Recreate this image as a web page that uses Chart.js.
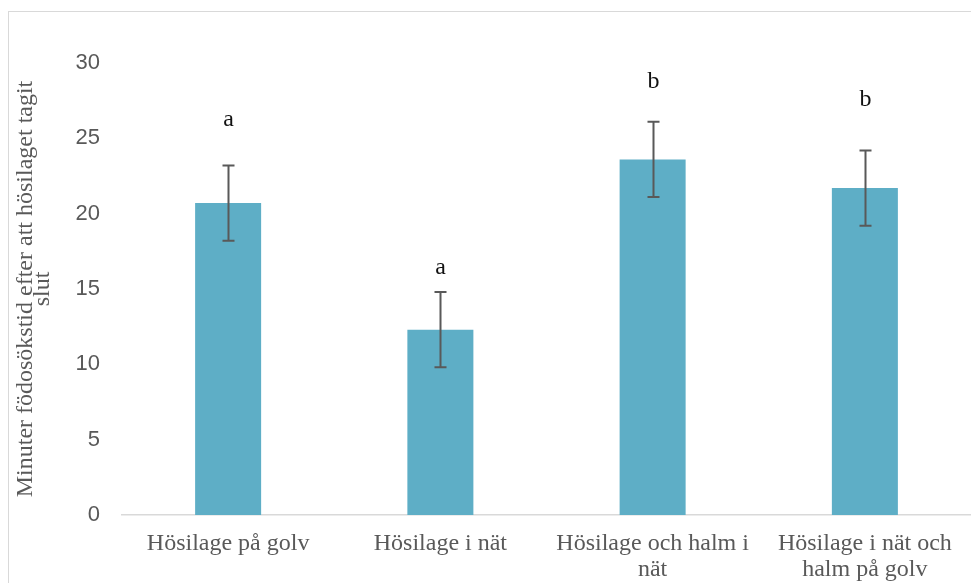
<!DOCTYPE html>
<html>
<head>
<meta charset="utf-8">
<script src="https://cdn.jsdelivr.net/npm/chart.js@4/dist/chart.umd.min.js"></script>
<style>
  html, body { margin: 0; padding: 0; background: #ffffff; }
  #wrap { position: relative; width: 971px; height: 583px; overflow: hidden; }
  #frame { position: absolute; left: 8px; top: 11px; width: 980px; height: 600px;
           border-top: 1px solid #d9d9d9; border-left: 1px solid #d9d9d9; box-sizing: border-box; }
  #c { position: absolute; left: 0; top: 0; }
</style>
</head>
<body>
<div id="wrap">
  <div id="frame"></div>
  <canvas id="c" width="971" height="583"></canvas>
</div>
<script>
// Feeding-search time (minutes) after the haylage was finished, per treatment
const categories = [
  ["Hösilage på golv"],
  ["Hösilage i nät"],
  ["Hösilage och halm i", "nät"],
  ["Hösilage i nät och", "halm på golv"]
];
const meanMinutes = [20.7, 12.3, 23.6, 21.7];
const errorMinutes = [2.5, 2.5, 2.5, 2.5];
// Significance letters and the y value of their baseline
const groupLetters = ["a", "a", "b", "b"];
const letterLevels = [25.8, 16.0, 28.35, 27.15];
const yTicks = [0, 5, 10, 15, 20, 25, 30];

const grey = '#595959';

const errorBarsPlugin = {
  id: 'errorBars',
  afterDatasetsDraw(chart) {
    const ctx = chart.ctx;
    const y = chart.scales.y;
    const meta = chart.getDatasetMeta(0);
    ctx.save();
    meta.data.forEach((bar, i) => {
      const x = Math.round(bar.x) + 0.5;
      const top = y.getPixelForValue(meanMinutes[i] + errorMinutes[i]);
      const bot = y.getPixelForValue(meanMinutes[i] - errorMinutes[i]);
      ctx.strokeStyle = grey;
      ctx.lineWidth = 2;
      ctx.beginPath();
      ctx.moveTo(x, top); ctx.lineTo(x, bot);
      ctx.moveTo(x - 6, top); ctx.lineTo(x + 6, top);
      ctx.moveTo(x - 6, bot); ctx.lineTo(x + 6, bot);
      ctx.stroke();

      ctx.fillStyle = '#111111';
      ctx.font = '24px "Liberation Serif", "Times New Roman", serif';
      ctx.textAlign = 'center';
      ctx.textBaseline = 'alphabetic';
      ctx.fillText(groupLetters[i], x, y.getPixelForValue(letterLevels[i]));
    });
    ctx.restore();
  }
};

new Chart(document.getElementById('c'), {
  type: 'bar',
  data: {
    labels: categories,
    datasets: [{
      data: meanMinutes,
      backgroundColor: '#5eaec6',
      borderWidth: 0,
      categoryPercentage: 1.0,
      barPercentage: 0.311
    }]
  },
  options: {
    responsive: false,
    animation: false,
    devicePixelRatio: 1,
    layout: { padding: { top: 63, right: 0, bottom: 0, left: 0 } },
    plugins: { legend: { display: false }, tooltip: { enabled: false } },
    scales: {
      x: {
        grid: { display: false, drawTicks: false },
        border: { display: true, color: '#d9d9d9', width: 1.5 },
        ticks: {
          color: grey,
          padding: 16,
          maxRotation: 0,
          autoSkip: false,
          font: { family: '"Liberation Serif", "Times New Roman", serif', size: 24, lineHeight: 1.08 }
        },
        afterFit(scale) { scale.height = 68; }
      },
      y: {
        min: 0,
        max: 30,
        grid: { display: false, drawTicks: false },
        border: { display: false },
        afterBuildTicks(scale) { scale.ticks = yTicks.map(v => ({ value: v })); },
        ticks: {
          color: grey,
          padding: 22,
          font: { family: '"Liberation Sans", Arial, sans-serif', size: 22 }
        },
        title: {
          display: true,
          text: ["Minuter födosökstid efter att hösilaget tagit", "slut"],
          color: grey,
          padding: { top: 18, bottom: 0 },
          font: { family: '"Liberation Serif", "Times New Roman", serif', size: 24, lineHeight: 0.68 }
        },
        afterFit(scale) { scale.width = 122; }
      }
    }
  },
  plugins: [errorBarsPlugin]
});
</script>
</body>
</html>
